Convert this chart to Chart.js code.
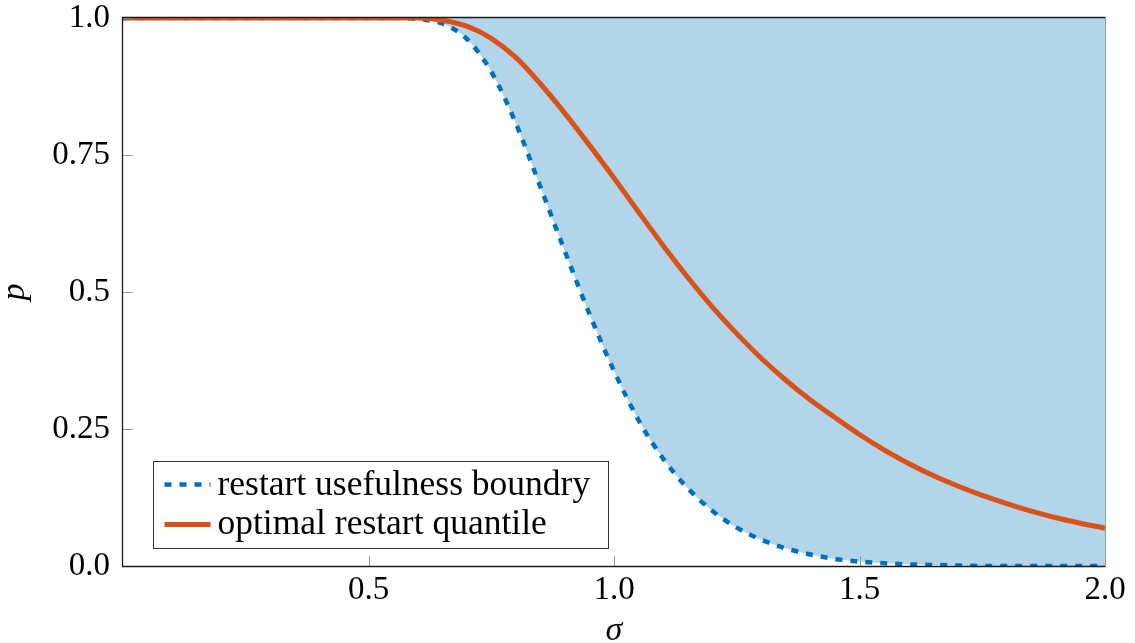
<!DOCTYPE html>
<html>
<head>
<meta charset="utf-8">
<title>restart quantile</title>
<script src="https://cdn.jsdelivr.net/npm/chart.js@4.4.0/dist/chart.umd.min.js"></script>
<style>
  html, body { margin: 0; padding: 0; background: #fff; }
  #wrap { width: 1135px; height: 643px; }
</style>
</head>
<body>
<div id="wrap"><canvas id="chart" width="1135" height="643"></canvas></div>
<script>
// values
const sigma = [0, 0.05, 0.1, 0.15, 0.2, 0.25, 0.3, 0.35, 0.4, 0.45, 0.5, 0.55, 0.6, 0.65, 0.7, 0.75, 0.8, 0.85, 0.9, 0.95,
               1.0, 1.05, 1.1, 1.15, 1.2, 1.25, 1.3, 1.35, 1.4, 1.45, 1.5, 1.55, 1.6, 1.65, 1.7, 1.75, 1.8, 1.85, 1.9, 1.95, 2.0];
const boundary = [1, 1, 1, 1, 1, 1, 1, 1, 1, 1, 1, 1, 0.998, 0.99, 0.962, 0.902, 0.808, 0.692, 0.574, 0.46,
                  0.356, 0.266, 0.196, 0.142, 0.101, 0.07, 0.048, 0.032, 0.021, 0.013, 0.008, 0.005, 0.003, 0.002, 0.001, 0, 0, 0, 0, 0, 0];
const quantile = [1, 1, 1, 1, 1, 1, 1, 1, 1, 1, 1, 1, 1, 0.996, 0.985, 0.963, 0.928, 0.88, 0.826, 0.768,
                  0.708, 0.646, 0.585, 0.527, 0.473, 0.424, 0.379, 0.339, 0.303, 0.271, 0.24, 0.212, 0.187, 0.165, 0.146, 0.129, 0.114, 0.1, 0.088, 0.078, 0.069];
const seriesNames = ['restart usefulness boundry', 'optimal restart quantile'];
const xTicks = [0.5, 1.0, 1.5, 2.0];
const xTickLabels = ['0.5', '1.0', '1.5', '2.0'];
const yTicks = [0, 0.25, 0.5, 0.75, 1.0];
const yTickLabels = ['0.0', '0.25', '0.5', '0.75', '1.0'];

const fontFamily = "'Liberation Serif', 'Times New Roman', serif";
const blue = '#0072bd', orange = '#d95319', fillBlue = 'rgb(179,213,234)';

// inside ticks + axis frame
const axisDecor = {
  id: 'axisDecor',
  afterDatasetsDraw(chart) {
    const {ctx, chartArea: a, scales: {x, y}} = chart;
    ctx.save();
    ctx.strokeStyle = '#9a9a9a';
    ctx.lineWidth = 1;
    ctx.beginPath();
    xTicks.forEach(v => {
      const px = Math.round(x.getPixelForValue(v)) + 0.5;
      ctx.moveTo(px, a.bottom);
      ctx.lineTo(px, a.bottom - 10);
    });
    yTicks.forEach(v => {
      const py = Math.round(y.getPixelForValue(v)) + 0.5;
      ctx.moveTo(a.left, py);
      ctx.lineTo(a.left + 10, py);
    });
    ctx.stroke();

    ctx.beginPath();
    ctx.moveTo(a.right + 0.5, a.top);
    ctx.lineTo(a.right + 0.5, a.bottom);
    ctx.stroke();

    ctx.strokeStyle = '#1a1a1a';
    ctx.lineWidth = 1.3;
    ctx.beginPath();
    ctx.moveTo(a.right + 0.5, a.top - 0.5);
    ctx.lineTo(a.left - 0.5, a.top - 0.5);
    ctx.lineTo(a.left - 0.5, a.bottom + 0.5);
    ctx.lineTo(a.right + 0.5, a.bottom + 0.5);
    ctx.stroke();
    ctx.restore();
  }
};

// legend box inside the plot, bottom left
const boxLegend = {
  id: 'boxLegend',
  afterDraw(chart) {
    const {ctx, chartArea: a} = chart;
    const bx = a.left + 30.5, by = a.bottom - 104.5, bw = 455, bh = 87;
    ctx.save();
    ctx.fillStyle = '#fff';
    ctx.fillRect(bx, by, bw, bh);
    ctx.strokeStyle = '#333';
    ctx.lineWidth = 1;
    ctx.strokeRect(bx, by, bw, bh);

    const rows = [
      {text: seriesNames[0], color: blue, dash: [7, 8], width: 4.5, lineY: by + 23, baseY: by + 33},
      {text: seriesNames[1], color: orange, dash: [], width: 5, lineY: by + 63, baseY: by + 72}
    ];
    rows.forEach(r => {
      ctx.strokeStyle = r.color;
      ctx.lineWidth = r.width;
      ctx.setLineDash(r.dash);
      ctx.beginPath();
      ctx.moveTo(bx + 11, r.lineY);
      ctx.lineTo(bx + 57, r.lineY);
      ctx.stroke();
      ctx.setLineDash([]);
      ctx.fillStyle = '#000';
      ctx.font = '35.5px ' + fontFamily;
      ctx.textBaseline = 'alphabetic';
      ctx.textAlign = 'left';
      ctx.fillText(r.text, bx + 64, r.baseY);
    });
    ctx.restore();
  }
};

const ctx = document.getElementById('chart').getContext('2d');
const chart = new Chart(ctx, {
  type: 'line',
  data: {
    datasets: [
      {
        label: seriesNames[1],
        data: sigma.map((s, i) => ({x: s, y: quantile[i]})),
        borderColor: orange,
        borderWidth: 5,
        pointRadius: 0,
        fill: false,
        cubicInterpolationMode: 'monotone',
        order: 0
      },
      {
        label: seriesNames[0],
        data: sigma.map((s, i) => ({x: s, y: boundary[i]})),
        borderColor: blue,
        borderWidth: 4.5,
        borderDash: [7, 8],
        backgroundColor: fillBlue,
        pointRadius: 0,
        fill: 'end',
        cubicInterpolationMode: 'monotone',
        order: 1
      }
    ]
  },
  options: {
    responsive: false,
    animation: false,
    devicePixelRatio: 1,
    layout: { padding: { top: 18, right: 30, left: 0, bottom: 0 } },
    plugins: {
      legend: { display: false },
      tooltip: { enabled: false }
    },
    scales: {
      x: {
        type: 'linear',
        min: 0,
        max: 2,
        grid: { display: false, tickLength: 8 },
        border: { display: false },
        afterBuildTicks: scale => { scale.ticks = xTicks.map(v => ({value: v})); },
        afterFit: scale => {
          scale.height = 77;
          scale.paddingLeft = 0;
          scale.paddingRight = 0;
        },
        ticks: {
          color: '#000',
          padding: 0,
          maxRotation: 0,
          font: { family: fontFamily, size: 33, lineHeight: 1 },
          callback: v => xTickLabels[xTicks.indexOf(v)]
        },
        title: {
          display: true,
          text: 'σ',
          color: '#000',
          padding: { top: 0, bottom: -8 },
          font: { family: fontFamily, size: 34, style: 'italic' }
        }
      },
      y: {
        type: 'linear',
        min: 0,
        max: 1,
        grid: { display: false, tickLength: 8 },
        border: { display: false },
        afterBuildTicks: scale => { scale.ticks = yTicks.map(v => ({value: v})); },
        afterFit: scale => {
          scale.width = 123;
          scale.paddingTop = 0;
          scale.paddingBottom = 0;
        },
        ticks: {
          color: '#000',
          padding: 5,
          font: { family: fontFamily, size: 33, lineHeight: 1 },
          callback: v => yTickLabels[yTicks.indexOf(v)]
        },
        title: {
          display: true,
          text: 'p',
          color: '#000',
          padding: { top: -5, bottom: 0 },
          font: { family: fontFamily, size: 34, style: 'italic' }
        }
      }
    }
  },
  plugins: [axisDecor, boxLegend]
});
</script>
</body>
</html>
